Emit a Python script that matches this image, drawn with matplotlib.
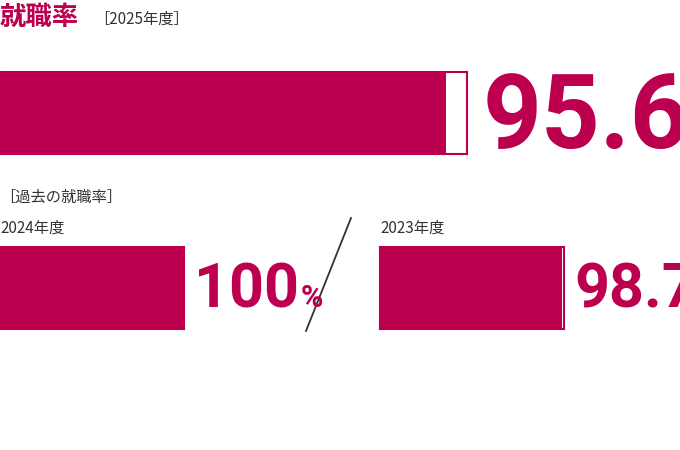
import matplotlib
matplotlib.use("Agg")
import matplotlib.pyplot as plt
from matplotlib.lines import Line2D
from matplotlib import font_manager as fm

plt.rcParams['font.family'] = ['Noto Sans CJK JP', 'DejaVu Sans']

C = '#BC004F'
GRAY = '#333333'
years = ['2025年度', '2024年度', '2023年度']
rates = [95.6, 100.0, 98.7]
labels = ['95.6', '100', '98.7']

names = {f.name for f in fm.fontManager.ttflist}
NUMF = ['Liberation Sans Narrow'] if 'Liberation Sans Narrow' in names else ['Roboto']

W, H = 680, 450
fig = plt.figure(figsize=(W/100, H/100), dpi=100)
r = fig.canvas.get_renderer()

def px_axes(x0, y0, x1, y1):
    return fig.add_axes([x0/W, 1-y1/H, (x1-x0)/W, (y1-y0)/H])

def bar(x0, y0, x1, y1, val):
    ax = px_axes(x0, y0, x1, y1)
    ax.barh([0], [val], height=1, color=C, edgecolor='none')
    ax.set_xlim(0, 100); ax.set_ylim(-0.5, 0.5)
    ax.set_xticks([]); ax.set_yticks([])
    for s in ax.spines.values():
        s.set_color(C); s.set_linewidth(1.5)
    return ax

def t(x, y, s, **kw):
    return fig.text(x/W, 1-y/H, s, **kw)

def num(x, y, s, fs, pfs):
    a = t(x, y, s, color=C, fontsize=fs, fontweight='bold', va='baseline', family=NUMF)
    bb = a.get_window_extent(r)
    t(bb.x1 + 2, y, '%', color=C, fontsize=pfs, fontweight='bold', va='baseline', family=NUMF)

t(0, 17, '就職率', color=C, fontsize=19, fontweight='bold', va='center')
t(94, 19, '［' + years[0] + '］', color=GRAY, fontsize=11, va='center')

bar(0, 72, 467, 154, rates[0])
num(483, 148, labels[0], 74, 34)

t(0, 197, '［過去の就職率］', color=GRAY, fontsize=11, va='center')
t(0, 228, years[1], color=GRAY, fontsize=11, va='center')
t(380, 228, years[2], color=GRAY, fontsize=11, va='center')

bar(0, 247, 184, 329, rates[1])
num(194, 307, labels[1], 44, 22)

bar(380, 247, 564, 329, rates[2])
num(574, 307, labels[2], 44, 22)

fig.add_artist(Line2D([351/W, 306/W], [1-218/H, 1-331/H], color=GRAY, lw=1.3))

fig.savefig('out.png', dpi=100, facecolor='white')
